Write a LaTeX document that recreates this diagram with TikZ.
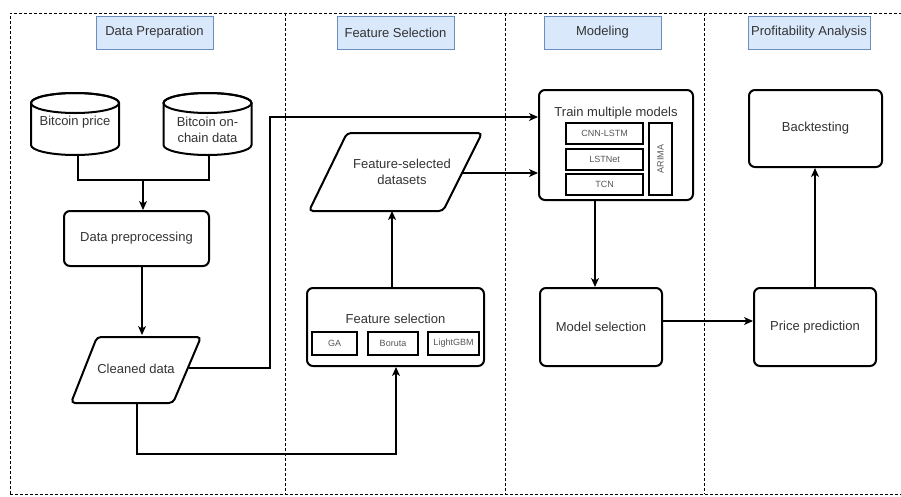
\documentclass[tikz,border=0pt]{standalone}
\usepackage{fontspec}
\setmainfont{Liberation Sans}
\usetikzlibrary{arrows.meta,calc}
\definecolor{hdrfill}{HTML}{DAE8FC}
\definecolor{hdrdraw}{HTML}{6C8EBF}
\definecolor{txt}{HTML}{333333}
\definecolor{subtxt}{HTML}{555555}
\begin{document}
\begin{tikzpicture}[x=1pt,y=-1pt,
  lane/.style={line width=0.8pt, dash pattern=on 3pt off 2pt},
  header/.style={draw=hdrdraw, fill=hdrfill, line width=0.8pt, text=txt,
    font=\fontsize{13}{15}\selectfont, inner sep=0pt},
  box/.style={draw, line width=2pt, rounded corners=6pt, text=txt,
    font=\fontsize{13}{15.5}\selectfont, align=center, inner sep=0pt},
  shapeline/.style={draw, line width=2pt, fill=white},
  label/.style={text=txt, font=\fontsize{13}{15.5}\selectfont, align=center, inner sep=0pt},
  title/.style={text=txt, font=\fontsize{13}{15}\selectfont, inner sep=0pt},
  subbox/.style={draw, line width=1.2pt, text=subtxt, font=\fontsize{9}{10}\selectfont, inner sep=0pt},
  conn/.style={draw, line width=1.1pt},
  arr/.style={conn, -{Stealth[length=9pt,width=8pt,inset=2.5pt]}}]
\useasboundingbox (0,0) rectangle (901,496);

% swimlane frame and dividers
\draw[lane] (10,494) -- (10,13) -- (905,13);
\draw[lane] (10,494) -- (905,494);
\foreach \xx in {285,505,704} \draw[lane] (\xx,13) -- (\xx,494);

% lane headers
\node[header, minimum width=117pt, minimum height=33pt] (hprep) at (154.5,32.5) {Data Preparation};
\node[header, minimum width=117pt, minimum height=33pt] (hfeat) at (395.5,32.5) {Feature Selection};
\node[header, minimum width=117pt, minimum height=33pt] (hmod) at (602.5,32.5) {Modeling};
\node[header, minimum width=122pt, minimum height=33pt] (hprof) at (809,32.5) {Profitability Analysis};

% data sources (cylinders)
\foreach \cx in {75,207.5}{
  \path[shapeline] (\cx-44,103) -- (\cx-44,145)
    arc[start angle=180,end angle=0,x radius=44,y radius=10] -- (\cx+44,103)
    arc[start angle=0,end angle=-180,x radius=44,y radius=10] -- cycle;
  \draw[line width=2pt] (\cx,103) ellipse[x radius=44,y radius=10];
}
\node[label, minimum width=88pt, minimum height=62pt] (price) at (75,124) {};
\node[label] at (75,122) {Bitcoin price};
\node[label, minimum width=88pt, minimum height=62pt] (chain) at (207.5,124) {};
\node[label] at (207.5,130) {Bitcoin on-\\chain data};

% preprocessing
\node[box, minimum width=145pt, minimum height=55pt] (prep) at (136.5,238.5) {Data preprocessing};

% cleaned data (parallelogram)
\path[shapeline, rounded corners=4pt] (97,337) -- (201,337) -- (173,403) -- (71,403) -- cycle;
\node[label] (clean) at (136,369) {Cleaned data};
\coordinate (cleanR) at (189,368);
\coordinate (cleanB) at (137,403);
\coordinate (cleanT) at (142,337);

% feature-selected datasets (parallelogram)
\path[shapeline, rounded corners=4pt] (347,133) -- (482,133) -- (443,211) -- (309,211) -- cycle;
\node[label] (fsd) at (402,172) {Feature-selected\\datasets};
\coordinate (fsdR) at (463,173);
\coordinate (fsdB) at (392,211);

% feature selection
\node[box, minimum width=177pt, minimum height=78pt] (fs) at (395.5,327) {};
\node[title] at (395.5,319) {Feature selection};
\node[subbox, minimum width=45pt, minimum height=23pt] (ga) at (334.5,343.5) {GA};
\node[subbox, minimum width=50pt, minimum height=23pt] (bor) at (393,343.5) {Boruta};
\node[subbox, minimum width=51pt, minimum height=23pt] (lgbm) at (453.5,343.5) {LightGBM};

% model training
\node[box, minimum width=154pt, minimum height=110pt] (train) at (616,145) {};
\node[title] at (616,113) {Train multiple models};
\node[subbox, minimum width=77pt, minimum height=21pt] (cnn) at (604.5,133.5) {CNN-LSTM};
\node[subbox, minimum width=77pt, minimum height=21pt] (lstnet) at (604.5,159.5) {LSTNet};
\node[subbox, minimum width=77pt, minimum height=21pt] (tcn) at (604.5,184.5) {TCN};
\node[subbox, minimum width=23pt, minimum height=72pt] (arima) at (660.5,159) {};
\node[text=subtxt, font=\fontsize{9}{10}\selectfont, rotate=90, inner sep=0pt] at (arima.center) {ARIMA};

% selection, prediction, backtesting
\node[box, minimum width=122pt, minimum height=78pt] (msel) at (601,327) {Model selection};
\node[box, minimum width=122pt, minimum height=78pt] (pred) at (815,327) {Price prediction};
\node[box, minimum width=133pt, minimum height=77pt] (back) at (815.5,128.5) {Backtesting};

% connectors
\coordinate (join) at (143,180);
\draw[conn] (78,156) |- (join);
\draw[conn] (209,156) |- (join);
\draw[arr] (join) -- (join |- prep.north);
\draw[arr] (prep.south -| cleanT) -- ($(cleanT)+(0,-2)$);
\draw[arr] (cleanR) -| (270,117) -- (train.west |- 0,117);
\draw[arr] (cleanB) |- (396,454) -- (fs.south -| 396,0);
\draw[arr] (fs.north -| fsdB) -- (fsdB);
\draw[arr] (fsdR) -- (train.west |- fsdR);
\draw[arr] (train.south -| 595,0) -- (msel.north -| 595,0);
\draw[arr] (msel.east |- 0,321) -- (pred.west |- 0,321);
\draw[arr] (pred.north) -- (back.south -| pred.north);
\end{tikzpicture}
\end{document}
